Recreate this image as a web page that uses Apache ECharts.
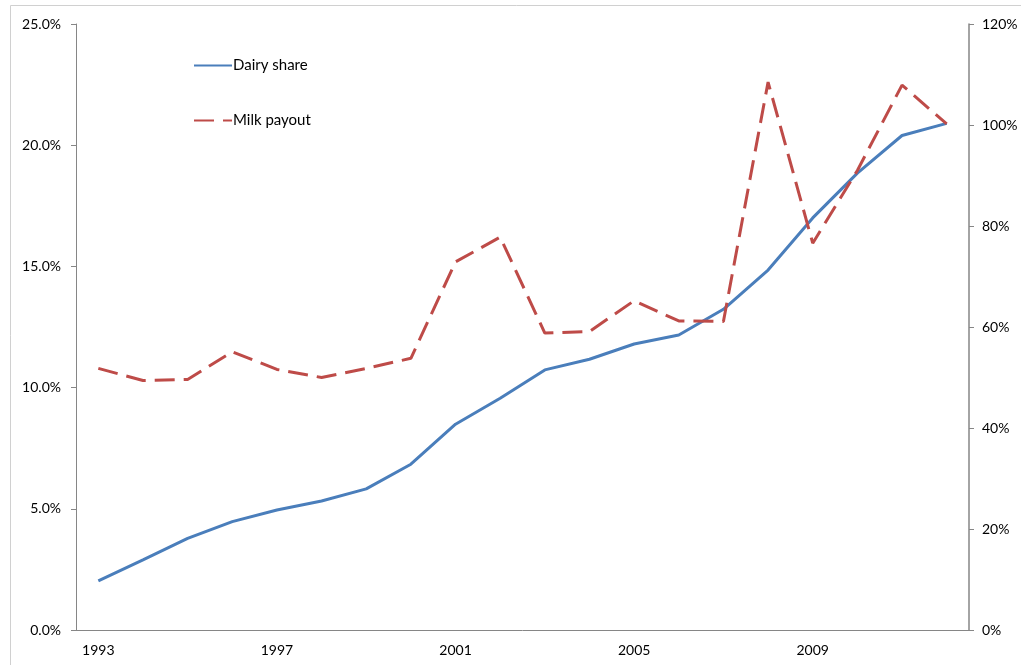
<!DOCTYPE html>
<html>
<head>
<meta charset="utf-8">
<script src="https://cdn.jsdelivr.net/npm/echarts@6/dist/echarts.min.js"></script>
<style>
  html, body { margin: 0; padding: 0; background: #fff; }
  #chart { width: 1021px; height: 665px; }
</style>
</head>
<body>
<div id="chart"></div>
<script>
const years = ['1993', '1994', '1995', '1996', '1997', '1998', '1999', '2000', '2001', '2002',
  '2003', '2004', '2005', '2006', '2007', '2008', '2009', '2010', '2011', '2012']

// left axis, % of total
const dairyShare = [2.03, 2.89, 3.78, 4.47, 4.95, 5.32, 5.82, 6.84, 8.49, 9.56,
  10.73, 11.17, 11.8, 12.17, 13.23, 14.85, 17.0, 18.85, 20.4, 20.9]

// right axis, %
const milkPayout = [51.8, 49.4, 49.6, 55.1, 51.6, 50.0, 51.8, 53.8, 72.9, 77.8,
  58.8, 59.1, 65.2, 61.2, 61.1, 108.5, 76.6, 91.0, 107.9, 100.2]

const fontFamily = 'Lato'
const axisGrey = '#868686'
const blue = '#4a7ebb'
const red = '#be4b48'

const chart = echarts.init(document.getElementById('chart'))

chart.setOption({
  animation: false,
  textStyle: { fontFamily },
  graphic: [{
    type: 'rect',
    shape: { x: 10.5, y: 5.5, width: 1200, height: 800 },
    style: { fill: 'none', stroke: '#d0d0d0', lineWidth: 1 },
    silent: true
  }],
  legend: {
    orient: 'vertical',
    left: 188,
    top: 53,
    itemGap: 40,
    itemWidth: 38,
    itemHeight: 15,
    itemStyle: { opacity: 0 },
    textStyle: { fontFamily, fontSize: 15, color: '#000', padding: [0, 0, 0, -4] },
    data: ['Dairy share', 'Milk payout']
  },
  grid: { left: 76, right: 52, top: 24, bottom: 35 },
  xAxis: {
    type: 'category',
    data: years,
    boundaryGap: true,
    axisLine: { lineStyle: { color: axisGrey, width: 1 } },
    axisTick: { interval: 3, length: 5, lineStyle: { color: axisGrey } },
    axisLabel: { interval: 3, fontFamily, color: '#000', fontSize: 14, margin: 13 }
  },
  yAxis: [
    {
      type: 'value',
      min: 0,
      max: 25,
      interval: 5,
      splitLine: { show: false },
      axisLine: { show: true, lineStyle: { color: axisGrey } },
      axisTick: { show: true, length: 5, lineStyle: { color: axisGrey } },
      axisLabel: { fontFamily, color: '#000', fontSize: 14, margin: 15, formatter: v => v.toFixed(1) + '%' }
    },
    {
      type: 'value',
      min: 0,
      max: 120,
      interval: 20,
      position: 'right',
      splitLine: { show: false },
      axisLine: { show: true, lineStyle: { color: axisGrey, width: 1.5 } },
      axisTick: { show: true, length: 5, lineStyle: { color: axisGrey } },
      axisLabel: { fontFamily, color: '#000', fontSize: 14, margin: 13, formatter: v => v + '%' }
    }
  ],
  series: [
    {
      name: 'Dairy share',
      type: 'line',
      yAxisIndex: 0,
      symbol: 'none',
      data: dairyShare,
      lineStyle: { color: blue, width: 3 },
      itemStyle: { color: blue }
    },
    {
      name: 'Milk payout',
      type: 'line',
      yAxisIndex: 1,
      symbol: 'none',
      data: milkPayout,
      lineStyle: { color: red, width: 3, type: [20, 9] },
      itemStyle: { color: red }
    }
  ]
})
</script>
</body>
</html>
